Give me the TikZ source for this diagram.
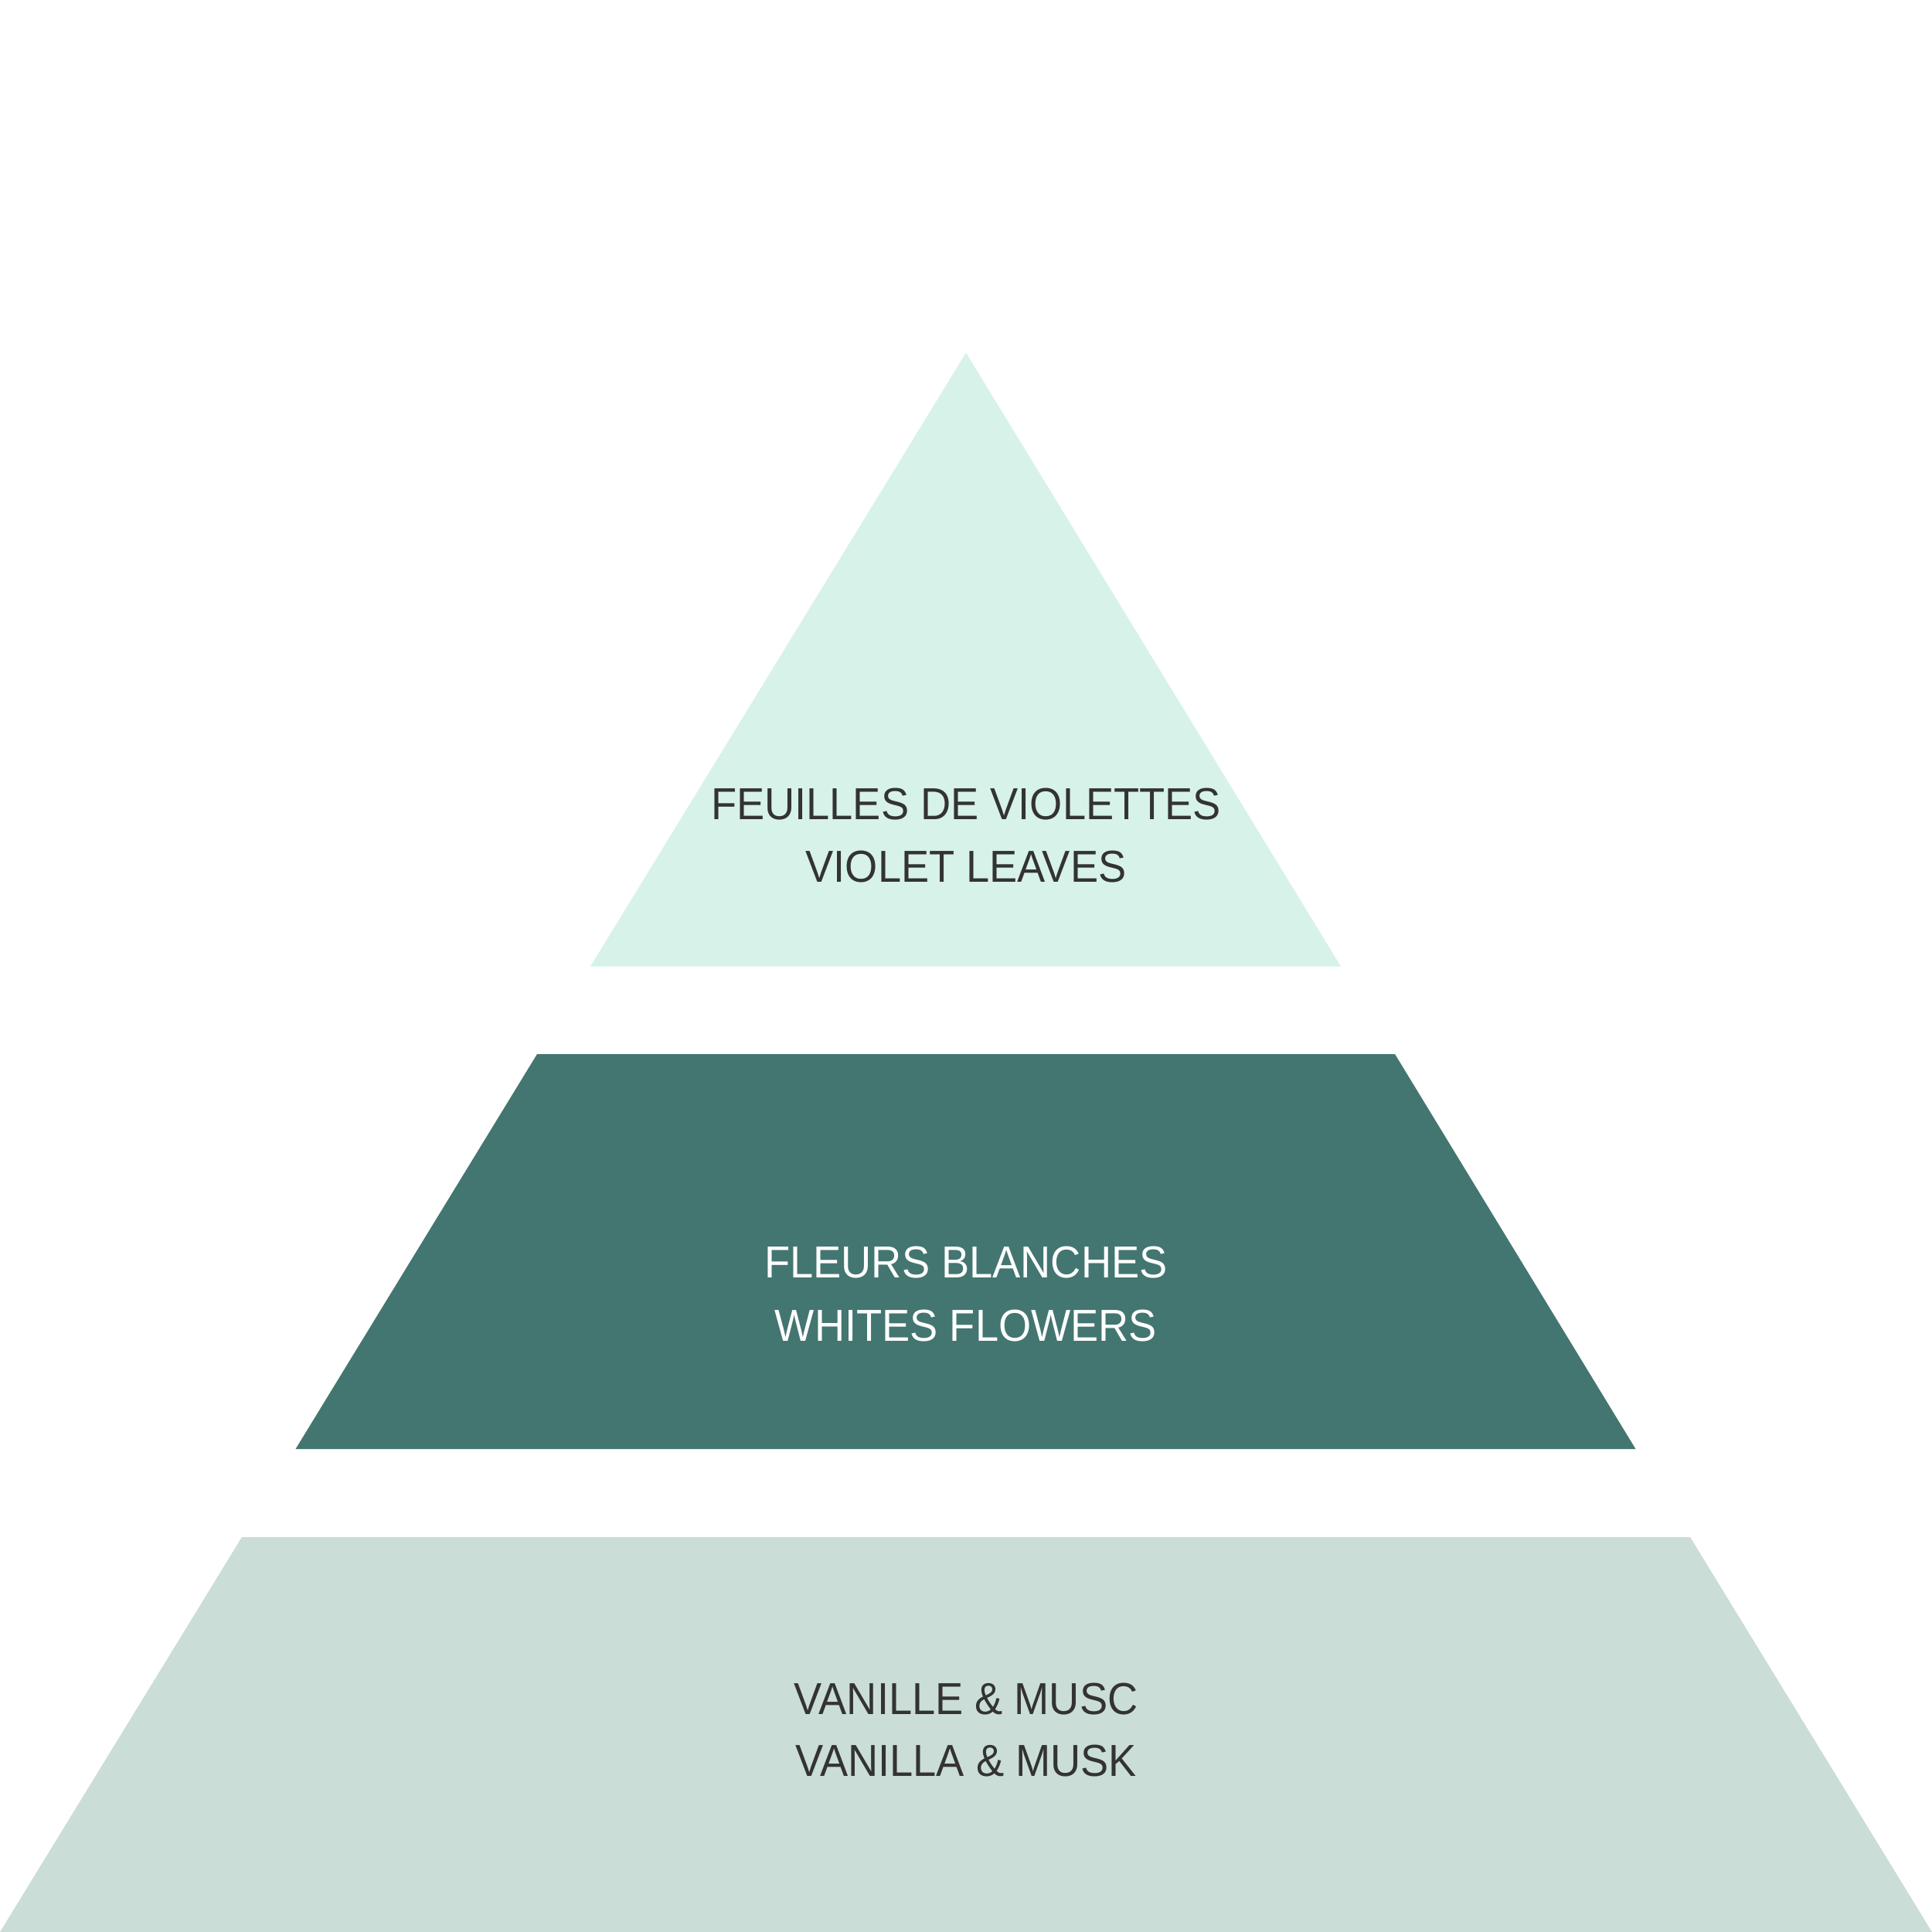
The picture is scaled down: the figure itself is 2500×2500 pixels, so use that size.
\documentclass[tikz,border=0pt]{standalone}
\usepackage{fontspec}
\newfontfamily\pyrfont[FakeStretch=0.935]{Liberation Sans}
\definecolor{topc}{RGB}{215,242,233}
\definecolor{midc}{RGB}{67,118,112}
\definecolor{botc}{RGB}{202,221,215}
\definecolor{txtdark}{RGB}{51,51,51}
\begin{document}
\begin{tikzpicture}[x=0.1mm,y=-0.1mm,
  lbl/.style={font=\pyrfont\fontsize{16.5pt}{20pt}\selectfont, anchor=base, inner sep=0pt},
  darktxt/.style={lbl, text=txtdark},
  lighttxt/.style={lbl, text=white}]
\useasboundingbox (0,0) rectangle (2500,2500);
\fill[white] (0,0) rectangle (2500,2500);
\fill[topc] (1250,456.5) -- (1735,1250.5) -- (764,1250.5) -- cycle;
\fill[midc] (695,1364) -- (1805,1364) -- (2116.5,1875) -- (382.5,1875) -- cycle;
\fill[botc] (313,1989) -- (2187,1989) -- (2500,2500) -- (0,2500) -- cycle;
\node[darktxt] (t1) at (1250,1060.7) {FEUILLES DE VIOLETTES};
\node[darktxt] (t2) at (1250,1141.7) {VIOLET LEAVES};
\node[lighttxt] (m1) at (1250,1653) {FLEURS BLANCHES};
\node[lighttxt] (m2) at (1250,1735) {WHITES FLOWERS};
\node[darktxt] (b1) at (1250,2218.3) {VANILLE \& MUSC};
\node[darktxt] (b2) at (1250,2298.3) {VANILLA \& MUSK};
\end{tikzpicture}
\end{document}
